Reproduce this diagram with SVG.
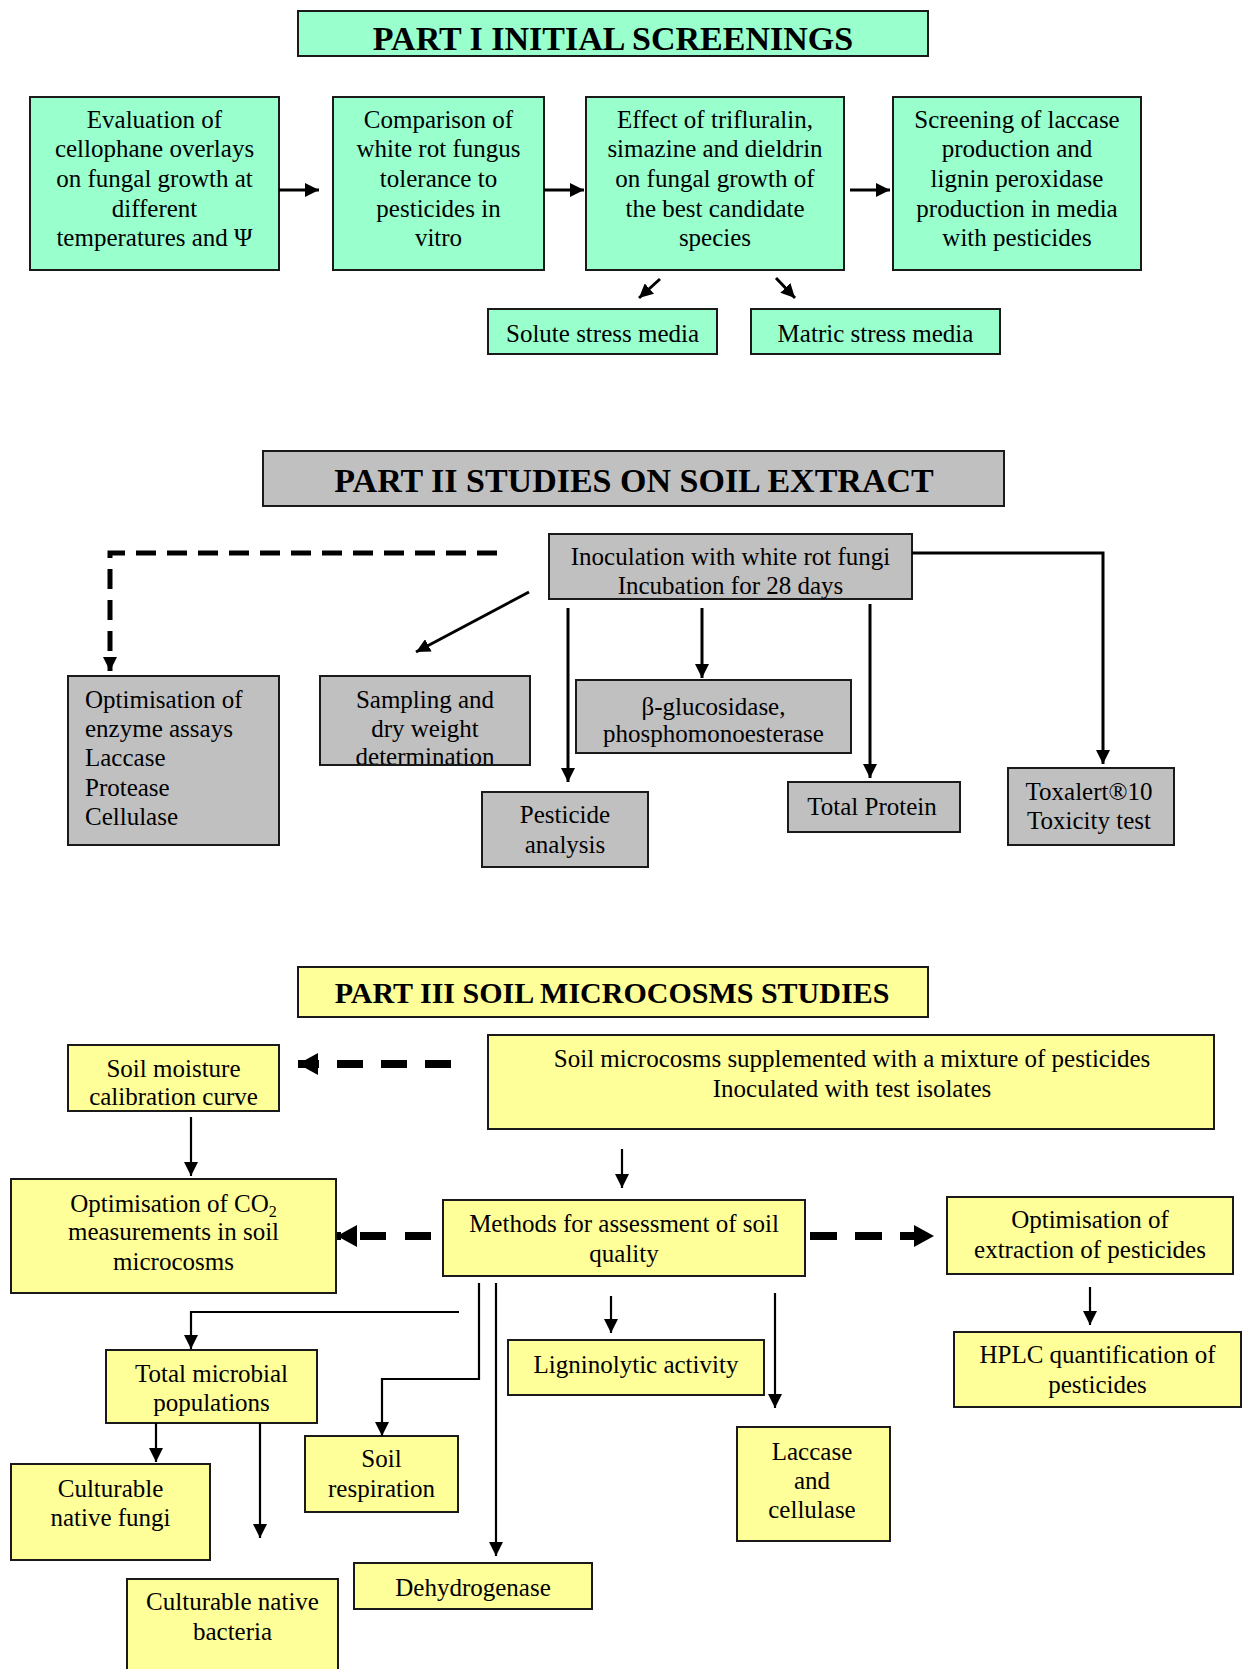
<svg xmlns="http://www.w3.org/2000/svg" width="1247" height="1669" viewBox="0 0 1247 1669">
<style>
text{font-family:"Liberation Serif","Times New Roman",serif;font-size:25px;fill:#000}
.c{text-anchor:middle}
.t{font-weight:bold;font-size:34px;text-anchor:middle}
.t3{font-weight:bold;font-size:30px;text-anchor:middle}
.g{fill:#99FFCC;stroke:#1a1a1a;stroke-width:2}
.s{fill:#C0C0C0;stroke:#1a1a1a;stroke-width:2}
.y{fill:#FFFF99;stroke:#1a1a1a;stroke-width:2}
.ln{fill:none;stroke:#000;stroke-width:2.2}
.lk{fill:none;stroke:#000;stroke-width:3}
.d5{fill:none;stroke:#000;stroke-width:5;stroke-dasharray:20 11}
.d8{fill:none;stroke:#000;stroke-width:8}
</style>
<defs>
<marker id="ah" markerUnits="userSpaceOnUse" markerWidth="14" markerHeight="14" refX="14" refY="7" orient="auto"><path d="M0,0 L14,7 L0,14 z" fill="#000"/></marker>
<marker id="ahb" markerUnits="userSpaceOnUse" markerWidth="20" markerHeight="22" refX="20" refY="11" orient="auto"><path d="M0,0 L20,11 L0,22 z" fill="#000"/></marker>
</defs>

<!-- PART I -->
<g id="title1"><rect class="g" x="298" y="11" width="630" height="45"/><text class="t" x="613" y="50">PART I INITIAL SCREENINGS</text></g>
<g id="evaluation"><rect class="g" x="30" y="97" width="249" height="173"/>
<text class="c" x="154.5" y="128">Evaluation of</text><text class="c" x="154.5" y="157">cellophane overlays</text><text class="c" x="154.5" y="187">on fungal growth at</text><text class="c" x="154.5" y="217">different</text><text class="c" x="154.5" y="246">temperatures and Ψ</text></g>
<g id="comparison"><rect class="g" x="333" y="97" width="211" height="173"/>
<text class="c" x="438.5" y="128">Comparison of</text><text class="c" x="438.5" y="157">white rot fungus</text><text class="c" x="438.5" y="187">tolerance to</text><text class="c" x="438.5" y="217">pesticides in</text><text class="c" x="438.5" y="246">vitro</text></g>
<g id="effect"><rect class="g" x="586" y="97" width="258" height="173"/>
<text class="c" x="715" y="128">Effect of trifluralin,</text><text class="c" x="715" y="157">simazine and dieldrin</text><text class="c" x="715" y="187">on fungal growth of</text><text class="c" x="715" y="217">the best candidate</text><text class="c" x="715" y="246">species</text></g>
<g id="screening"><rect class="g" x="893" y="97" width="248" height="173"/>
<text class="c" x="1017" y="128">Screening of laccase</text><text class="c" x="1017" y="157">production and</text><text class="c" x="1017" y="187">lignin peroxidase</text><text class="c" x="1017" y="217">production in media</text><text class="c" x="1017" y="246">with pesticides</text></g>
<g id="solute"><rect class="g" x="488" y="309" width="229" height="45"/><text class="c" x="602.5" y="342">Solute stress media</text></g>
<g id="matric"><rect class="g" x="751" y="309" width="249" height="45"/><text class="c" x="875.5" y="342">Matric stress media</text></g>

<!-- PART II -->
<g id="title2"><rect class="s" x="263" y="451" width="741" height="55"/><text class="t" x="634" y="492">PART II STUDIES ON SOIL EXTRACT</text></g>
<g id="inoculation"><rect class="s" x="549" y="534" width="363" height="65"/>
<text class="c" x="730.5" y="565">Inoculation with white rot fungi</text><text class="c" x="730.5" y="594">Incubation for 28 days</text></g>
<g id="optim-enzyme"><rect class="s" x="68" y="676" width="211" height="169"/>
<text x="85" y="708">Optimisation of</text><text x="85" y="737">enzyme assays</text><text x="85" y="766">Laccase</text><text x="85" y="796">Protease</text><text x="85" y="825">Cellulase</text></g>
<g id="sampling"><rect x="320" y="676" width="210" height="89" fill="#C0C0C0"/>
<text class="c" x="425" y="708">Sampling and</text><text class="c" x="425" y="737">dry weight</text><text class="c" x="425" y="765">determination</text>
<rect x="320" y="676" width="210" height="89" fill="none" stroke="#1a1a1a" stroke-width="2"/></g>
<g id="pesticide"><rect class="s" x="482" y="792" width="166" height="75"/>
<text class="c" x="565" y="823">Pesticide</text><text class="c" x="565" y="853">analysis</text></g>
<g id="glucosidase"><rect class="s" x="576" y="680" width="275" height="73"/>
<text class="c" x="713.5" y="715">β-glucosidase,</text><text class="c" x="713.5" y="742">phosphomonoesterase</text></g>
<g id="protein"><rect class="s" x="788" y="782" width="172" height="50"/><text class="c" x="872" y="815">Total Protein</text></g>
<g id="toxalert"><rect class="s" x="1008" y="768" width="166" height="77"/>
<text class="c" x="1089" y="800">Toxalert®10</text><text class="c" x="1089" y="829">Toxicity test</text></g>

<!-- PART III -->
<g id="title3"><rect class="y" x="298" y="967" width="630" height="50"/><text class="t3" x="612" y="1003">PART III SOIL MICROCOSMS STUDIES</text></g>
<g id="microcosms"><rect class="y" x="488" y="1035" width="726" height="94"/>
<text class="c" x="852" y="1067">Soil microcosms supplemented with a mixture of pesticides</text><text class="c" x="852" y="1097">Inoculated with test isolates</text></g>
<g id="moisture"><rect class="y" x="68" y="1045" width="211" height="66"/>
<text class="c" x="173.5" y="1077">Soil moisture</text><text class="c" x="173.5" y="1105">calibration curve</text></g>
<g id="co2"><rect class="y" x="11" y="1179" width="325" height="114"/>
<text class="c" x="173.5" y="1212">Optimisation of CO<tspan font-size="16" dy="5">2</tspan></text><text class="c" x="173.5" y="1240">measurements in soil</text><text class="c" x="173.5" y="1270">microcosms</text></g>
<g id="methods"><rect class="y" x="443" y="1200" width="362" height="76"/>
<text class="c" x="624" y="1232">Methods for assessment of soil</text><text class="c" x="624" y="1262">quality</text></g>
<g id="extraction"><rect class="y" x="947" y="1197" width="286" height="77"/>
<text class="c" x="1090" y="1228">Optimisation of</text><text class="c" x="1090" y="1258">extraction of pesticides</text></g>
<g id="hplc"><rect class="y" x="954" y="1332" width="287" height="75"/>
<text class="c" x="1097.5" y="1363">HPLC quantification of</text><text class="c" x="1097.5" y="1393">pesticides</text></g>
<g id="microbial"><rect class="y" x="106" y="1350" width="211" height="73"/>
<text class="c" x="211.5" y="1382">Total microbial</text><text class="c" x="211.5" y="1411">populations</text></g>
<g id="fungi"><rect class="y" x="11" y="1464" width="199" height="96"/>
<text class="c" x="110.5" y="1497">Culturable</text><text class="c" x="110.5" y="1526">native fungi</text></g>
<g id="respiration"><rect class="y" x="305" y="1436" width="153" height="76"/>
<text class="c" x="381.5" y="1467">Soil</text><text class="c" x="381.5" y="1497">respiration</text></g>
<g id="ligninolytic"><rect class="y" x="508" y="1340" width="256" height="55"/><text class="c" x="636" y="1373">Ligninolytic activity</text></g>
<g id="laccase"><rect class="y" x="737" y="1427" width="153" height="114"/>
<text class="c" x="812" y="1460">Laccase</text><text class="c" x="812" y="1489">and</text><text class="c" x="812" y="1518">cellulase</text></g>
<g id="dehydrogenase"><rect class="y" x="354" y="1563" width="238" height="46"/><text class="c" x="473" y="1596">Dehydrogenase</text></g>
<g id="bacteria"><rect class="y" x="127" y="1579" width="211" height="100"/>
<text class="c" x="232.5" y="1610">Culturable native</text><text class="c" x="232.5" y="1640">bacteria</text></g>

<!-- connectors -->
<g id="connectors">
<line class="lk" x1="279" y1="190" x2="319" y2="190" marker-end="url(#ah)"/>
<line class="lk" x1="544" y1="190" x2="584" y2="190" marker-end="url(#ah)"/>
<line class="lk" x1="850" y1="190" x2="890" y2="190" marker-end="url(#ah)"/>
<line class="lk" x1="660" y1="279" x2="639" y2="298" marker-end="url(#ah)"/>
<line class="lk" x1="776" y1="278" x2="795" y2="298" marker-end="url(#ah)"/>

<path class="d5" d="M497,553 H110 V671" marker-end="url(#ah)"/>
<line class="lk" x1="529" y1="592" x2="416" y2="652" stroke-width="2.5" marker-end="url(#ah)"/>
<line class="lk" x1="568" y1="608" x2="568" y2="782" stroke-width="2.5" marker-end="url(#ah)"/>
<line class="lk" x1="702" y1="608" x2="702" y2="678" stroke-width="2.5" marker-end="url(#ah)"/>
<line class="lk" x1="870" y1="604" x2="870" y2="778" stroke-width="2.5" marker-end="url(#ah)"/>
<path class="lk" d="M912,553 H1103 V764" stroke-width="2.5" marker-end="url(#ah)"/>

<line class="d8" x1="451" y1="1064" x2="298" y2="1064" stroke-dasharray="26 18" marker-end="url(#ahb)"/>
<line class="d8" x1="431" y1="1236" x2="337" y2="1236" stroke-dasharray="26 19" marker-end="url(#ahb)"/>
<line class="d8" x1="810" y1="1236" x2="934" y2="1236" stroke-dasharray="27 18" marker-end="url(#ahb)"/>
<line class="ln" x1="191" y1="1117" x2="191" y2="1176" marker-end="url(#ah)"/>
<line class="ln" x1="622" y1="1149" x2="622" y2="1188" marker-end="url(#ah)"/>
<line class="ln" x1="1090" y1="1287" x2="1090" y2="1325" marker-end="url(#ah)"/>
<path class="ln" d="M479,1283 V1379 H382 V1436" marker-end="url(#ah)"/>
<line class="ln" x1="496" y1="1283" x2="496" y2="1556" marker-end="url(#ah)"/>
<path class="ln" d="M459,1312 H191 V1349" marker-end="url(#ah)"/>
<line class="ln" x1="611" y1="1296" x2="611" y2="1333" marker-end="url(#ah)"/>
<line class="ln" x1="775" y1="1293" x2="775" y2="1408" marker-end="url(#ah)"/>
<line class="ln" x1="156" y1="1423" x2="156" y2="1462" marker-end="url(#ah)"/>
<line class="ln" x1="260" y1="1423" x2="260" y2="1538" marker-end="url(#ah)"/>
</g>
</svg>
